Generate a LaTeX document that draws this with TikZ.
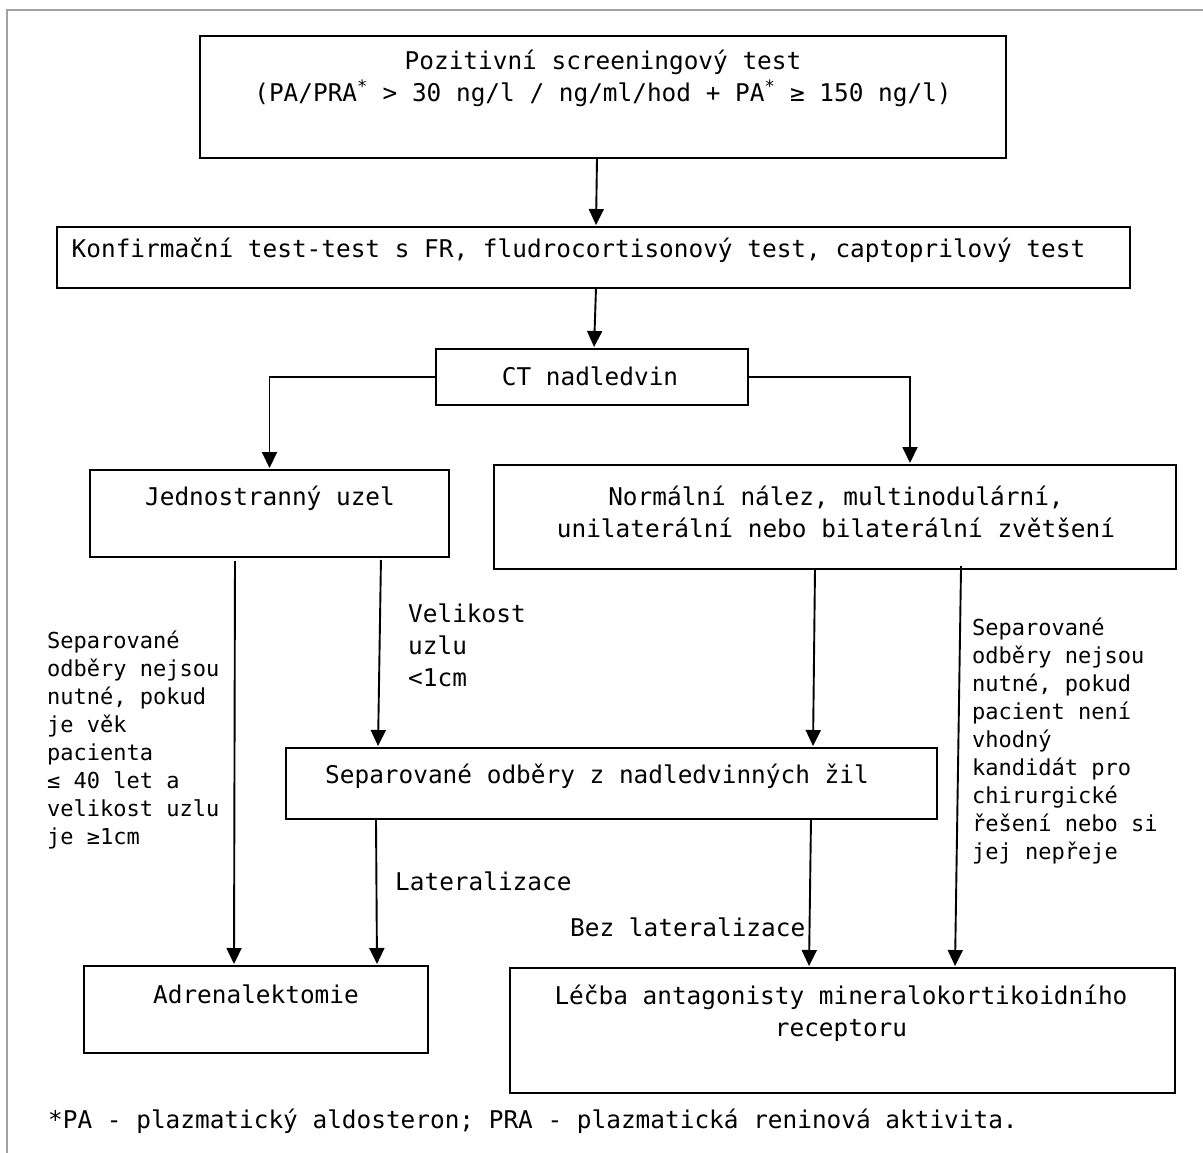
\documentclass[tikz,border=0pt]{standalone}
\usepackage{fontspec}
\setmainfont{DejaVu Sans Mono}
\usetikzlibrary{arrows.meta}
\definecolor{framegray}{RGB}{160,160,160}
\tikzset{
  box/.style={draw,line width=1.9pt,inner sep=0pt,outer sep=0pt,rectangle},
  txt/.style={font=\fontsize{24.4}{32}\selectfont,inner sep=0pt,anchor=base},
  txtl/.style={txt,anchor=base west},
  smalltxt/.style={font=\fontsize{22}{28}\selectfont,inner sep=0pt,anchor=base west},
  arr/.style={line width=1.9pt,-{Triangle[length=16pt,width=15pt]},shorten >=2pt},
}
\begin{document}
\begin{tikzpicture}[x=1pt,y=-1pt]
\useasboundingbox (0,0) rectangle (1203,1153);
\draw[framegray,line width=2pt] (7,1153) -- (7,10) -- (1203,10);

% boxes
\node[box,minimum width=806pt,minimum height=122pt] (top) at (603,97) {};
\node[box,minimum width=1073pt,minimum height=61pt] (konf) at (593.5,257.5) {};
\node[box,minimum width=312pt,minimum height=56pt] (ct) at (592,377) {};
\node[box,minimum width=359pt,minimum height=87pt] (jed) at (269.5,513.5) {};
\node[box,minimum width=682pt,minimum height=104pt] (norm) at (835,517) {};
\node[box,minimum width=651pt,minimum height=71pt] (sep) at (611.5,783.5) {};
\node[box,minimum width=344pt,minimum height=87pt] (adr) at (256,1009.5) {};
\node[box,minimum width=665pt,minimum height=125pt] (lecba) at (842.5,1030.5) {};

% box texts
\node[txt] (ttop) at (603,70) {\begin{tabular}[t]{@{}c@{}}Pozitivní screeningový test\\(PA/PRA\textsuperscript{*} > 30 ng/l / ng/ml/hod + PA\textsuperscript{*} ≥ 150 ng/l)\end{tabular}};
\node[txt] (tkonf) at (578.5,257) {Konfirmační test-test s FR, fludrocortisonový test, captoprilový test};
\node[txt] (tct) at (590,385) {CT nadledvin};
\node[txt] (tjed) at (270,505) {Jednostranný uzel};
\node[txt] (tnorm) at (836,505) {\begin{tabular}[t]{@{}c@{}}Normální nález, multinodulární,\\unilaterální nebo bilaterální zvětšení\end{tabular}};
\node[txt] (tsep) at (597,783) {Separované odběry z nadledvinných žil};
\node[txt] (tadr) at (256,1003) {Adrenalektomie};
\node[txt] (tlecba) at (841,1004) {\begin{tabular}[t]{@{}c@{}}Léčba antagonisty mineralokortikoidního\\receptoru\end{tabular}};

% connectors
\draw[arr] ([xshift=-6pt]top.south) -- ([xshift=2.5pt]konf.north);
\draw[arr] ([xshift=2.5pt]konf.south) -- ([xshift=2pt]ct.north);
\draw[arr] (ct.west) -| (jed.north);
\draw[arr] (ct.east) -| ([xshift=75pt]norm.north);
\draw[arr,shorten <=4pt] ([xshift=-34.5pt]jed.south) -- ([xshift=-22pt]adr.north);
\draw[arr,shorten <=3pt] ([xshift=111.5pt]jed.south) -- ([xshift=-233.5pt]sep.north);
\draw[arr] ([xshift=-20pt]norm.south) -- ([xshift=201.5pt]sep.north);
\draw[arr,shorten <=-3pt] ([xshift=126pt]norm.south) -- ([xshift=112.5pt]lecba.north);
\draw[arr] ([xshift=-235.5pt]sep.south) -- ([xshift=121pt]adr.north);
\draw[arr] ([xshift=199.5pt]sep.south) -- ([xshift=-33.5pt]lecba.north);

% edge labels
\node[smalltxt] (lleft) at (47,648) {\begin{tabular}[t]{@{}l@{}}Separované\\odběry nejsou\\nutné, pokud\\je věk\\pacienta\\≤ 40 let a\\velikost uzlu\\je ≥1cm\end{tabular}};
\node[smalltxt] (lright) at (972,635) {\begin{tabular}[t]{@{}l@{}}Separované\\odběry nejsou\\nutné, pokud\\pacient není\\vhodný\\kandidát pro\\chirurgické\\řešení nebo si\\jej nepřeje\end{tabular}};
\node[txtl] (lvel) at (408,622) {\begin{tabular}[t]{@{}l@{}}Velikost\\uzlu\\<1cm\end{tabular}};
\node[txtl] (llat) at (395,890) {Lateralizace};
\node[txtl] (lbez) at (570,936) {Bez lateralizace};

% footnote
\node[txtl] (foot) at (48,1128) {*PA - plazmatický aldosteron; PRA - plazmatická reninová aktivita.};
\end{tikzpicture}
\end{document}
